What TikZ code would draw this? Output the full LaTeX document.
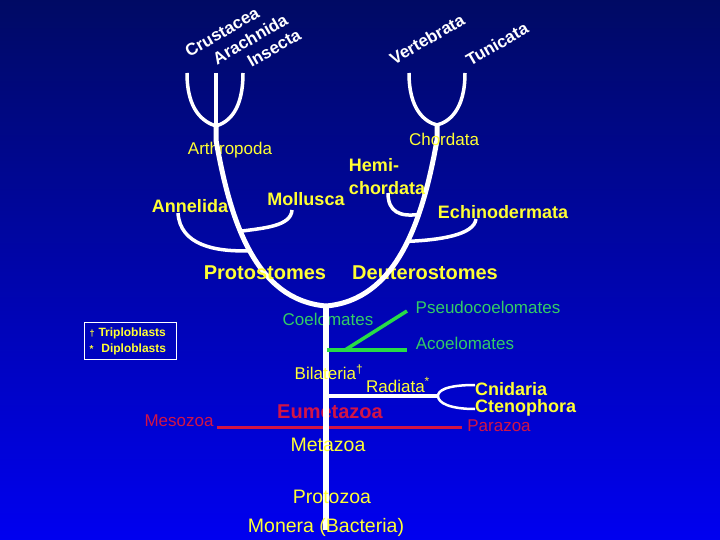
\documentclass[tikz,border=0pt]{standalone}
\usepackage{fontspec}
\setmainfont{Liberation Sans}
\usetikzlibrary{positioning}

\definecolor{navy}{RGB}{0,10,100}
\definecolor{midblue}{RGB}{0,0,215}
\definecolor{slideblue}{RGB}{0,0,240}
\definecolor{labyellow}{RGB}{255,255,51}
\definecolor{labgreen}{RGB}{51,204,102}
\definecolor{linegreen}{RGB}{40,220,70}
\definecolor{labred}{RGB}{210,20,70}
\newcommand{\fsz}[1]{\fontsize{#1}{#1}\selectfont}

\begin{document}
\begin{tikzpicture}[x=1pt,y=-1pt,
  br/.style={white,line width=3.5pt},
  stem/.style={white,line width=5pt},
  trunkline/.style={white,line width=6pt},
  gline/.style={linegreen,line width=3.5pt},
  rline/.style={labred,line width=3pt},
  toplab/.style={text=white,font=\bfseries\fsz{17},rotate=30,inner sep=0pt},
  blab/.style={text=labyellow,font=\bfseries\fsz{18},inner sep=0pt},
  ylab/.style={text=labyellow,font=\fsz{17},inner sep=0pt},
  biglab/.style={text=labyellow,font=\bfseries\fsz{20},inner sep=0pt},
  baselab/.style={text=labyellow,font=\fsz{19.5},inner sep=0pt},
  glab/.style={text=labgreen,font=\fsz{17},inner sep=0pt},
  redlab/.style={text=labred,font=\fsz{17},inner sep=0pt},
  keybox/.style={draw=white,line width=0.8pt,text=labyellow,
    font=\bfseries\fontsize{12}{16}\selectfont,align=left,
    text width=82pt,inner xsep=5pt,minimum height=37pt}]
  \useasboundingbox (0,0) rectangle (720,540);
  \shade[top color=navy,middle color=midblue,bottom color=slideblue]
    (0,0) rectangle (720,540);

  % junctions and free ends
  \coordinate (jArth) at (216,126);
  \coordinate (jChor) at (437,125);
  \coordinate (root) at (326,306);
  \coordinate (base) at (326,530);
  \coordinate (tCrus) at (187,73);
  \coordinate (tArach) at (216,73);
  \coordinate (tInsec) at (243,73);
  \coordinate (tVert) at (409,73);
  \coordinate (tTuni) at (465,73);
  \coordinate (tAnne) at (178,213);
  \coordinate (tMoll) at (292,210);
  \coordinate (tHemi) at (388,193);
  \coordinate (tEchi) at (476,219);
  \coordinate (acoJ) at (327,350);
  \coordinate (acoE) at (407,350);
  \coordinate (psJ) at (345,350);
  \coordinate (psE) at (407,311);
  \coordinate (radJ) at (326,396);
  \coordinate (radE) at (438,396);
  \coordinate (cnE) at (475,385);
  \coordinate (ctE) at (475,409);
  \coordinate (redL) at (217,427);
  \coordinate (redR) at (462,427);

  % labels under the lines
  \node[ylab] (arth) at (230,150) {Arthropoda};
  \node[biglab] (deut) at (425,273) {Deuterostomes};
  \node[glab] (coel) at (328,319) {Coelomates};
  \node[text=labred,font=\bfseries\fsz{20},inner sep=0pt] (eume) at (330,412) {Eumetazoa};

  \draw[rline] (redL) -- (redR);
  \draw[trunkline] (root) -- (base);

  % arthropod and chordate forks
  \draw[br] (tCrus) .. controls (187,110) and (203,122) .. (jArth);
  \draw[br] (tArach) -- (jArth);
  \draw[br] (tInsec) .. controls (243,110) and (229,122) .. (jArth);
  \draw[br] (tVert) .. controls (409,110) and (425,122) .. (jChor);
  \draw[br] (tTuni) .. controls (465,110) and (449,122) .. (jChor);

  % protostome and deuterostome arms
  \draw[stem] (jArth) -- (216,140) .. controls (230,220) and (255,300) .. (root)
    coordinate[pos=0.4] (jMoll) coordinate[pos=0.5] (jAnne);
  \draw[stem] (jChor) -- (437,140) .. controls (422,225) and (395,300) .. (root)
    coordinate[pos=0.31] (jHemi) coordinate[pos=0.44] (jEchi);
  \draw[br] (tAnne) .. controls (180,245) and (215,252) .. (jAnne);
  \draw[br] (tMoll) .. controls (291,226) and (265,228) .. (jMoll);
  \draw[br] (tHemi) .. controls (388,212) and (400,217) .. (jHemi);
  \draw[br] (tEchi) .. controls (474,235) and (440,240) .. (jEchi);

  \draw[gline] (acoJ) -- (acoE);
  \draw[gline] (psJ) -- (psE);

  \draw[br] (radJ) -- (radE);
  \draw[white,line width=2.5pt] (cnE) .. controls (445,385) and (438,391) .. (radE)
    .. controls (438,403) and (450,409) .. (ctE);

  % labels over the lines
  \node[toplab] (crus) at (222,32) {Crustacea};
  \node[toplab] (arach) at (250,39) {Arachnida};
  \node[toplab] (insec) at (274,48) {Insecta};
  \node[toplab] (vert) at (427,39) {Vertebrata};
  \node[toplab] (tuni) at (497,44) {Tunicata};

  \node[ylab] (chor) at (444,139) {Chordata};
  \node[blab,align=left,font=\bfseries\fontsize{18}{23}\selectfont] (hemi) at (387,177) {Hemi-\\chordata};
  \node[blab] (moll) at (306,199) {Mollusca};
  \node[blab] (anne) at (190,206) {Annelida};
  \node[blab] (echi) at (503,212) {Echinodermata};
  \node[biglab] (proto) at (265,273) {Protostomes};

  \node[glab] (pseu) at (488,307) {Pseudocoelomates};
  \node[glab] (acoe) at (465,343) {Acoelomates};

  \node[keybox] (key) at (130.5,341) {{\fsz{9}†}~Triploblasts\\{\fsz{10}*}~~Diploblasts};

  \node[ylab] (bila) at (329,372) {Bilateria\textsuperscript{†}};
  \node[ylab] (radi) at (398,385) {Radiata\textsuperscript{*}};
  \node[blab,anchor=west] (cnid) at (475,389) {Cnidaria};
  \node[blab,anchor=west] (cten) at (475,408) {Ctenophora};

  \node[redlab] (meso) at (179,421) {Mesozoa};
  \node[redlab] (para) at (499,426) {Parazoa};

  \node[baselab] (meta) at (328,445) {Metazoa};
  \node[baselab] (prot) at (332,497) {Protozoa};
  \node[baselab] (mone) at (326,527) {Monera (Bacteria)};
\end{tikzpicture}
\end{document}
